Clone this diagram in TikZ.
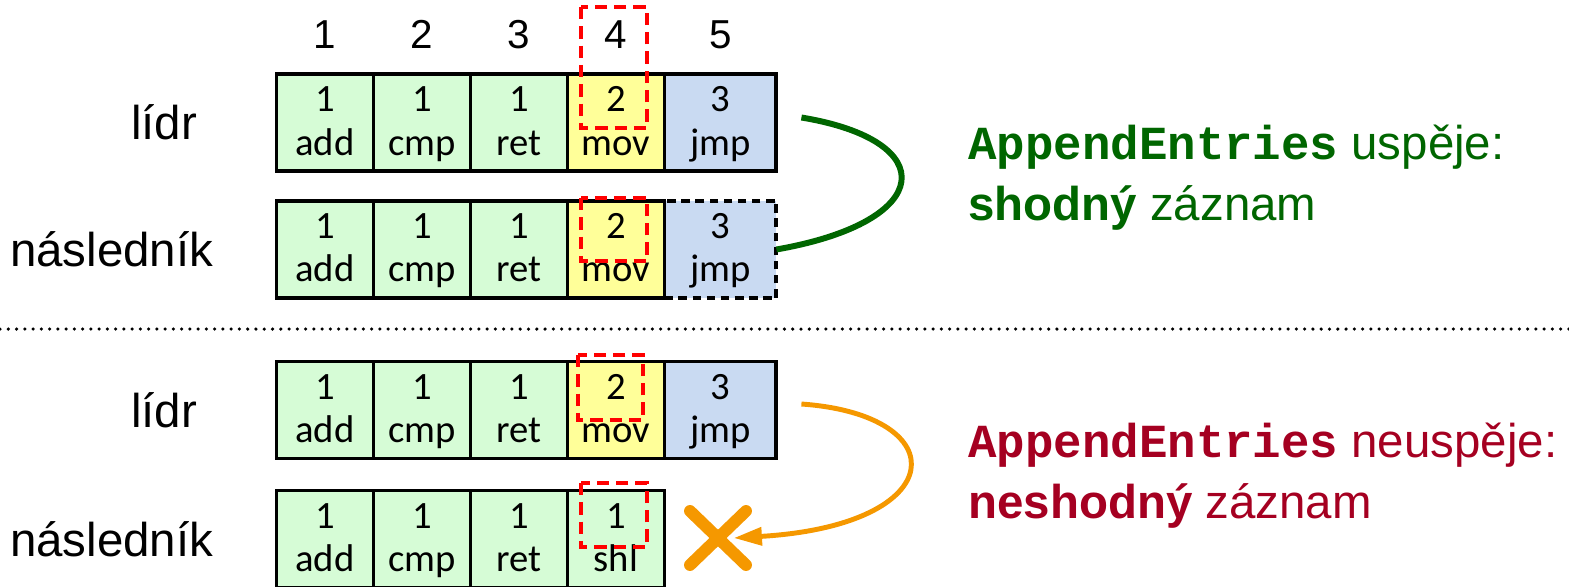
\documentclass[tikz,border=0pt]{standalone}
\usepackage{fontspec}
\setmainfont{Liberation Sans}
\newfontfamily\cellfont{Carlito}
\newfontfamily\codefont{Liberation Mono}
\usetikzlibrary{positioning, arrows.meta}
\definecolor{okfill}{RGB}{214,252,214}
\definecolor{curfill}{RGB}{255,255,153}
\definecolor{newfill}{RGB}{201,218,242}
\definecolor{okgreen}{RGB}{0,102,0}
\definecolor{failred}{RGB}{165,0,33}
\definecolor{failorange}{RGB}{245,152,0}

\begin{document}
\begin{tikzpicture}[x = 0.02cm, y = -0.02cm, node distance = 0pt,
  entry/.style = {rectangle, draw, line width = 2.2pt, minimum width = 1.94cm, minimum height = 1.94cm, inner sep = 0pt, outer sep = 0pt, align = center, font = \cellfont\fontsize{22}{24.5}\selectfont, text height = 37pt, text depth = 0pt},
  wide/.style = {minimum width = 2.24cm},
  idx/.style = {inner sep = 0pt, font = \fontsize{23}{27}\selectfont},
  role/.style = {inner sep = 0pt, font = \fontsize{27}{31}\selectfont},
  note/.style = {inner sep = 0pt, anchor = base west, font = \fontsize{27}{35}\selectfont},
  probe/.style = {draw = red, line width = 2pt, dash pattern = on 7pt off 4pt}]
  \useasboundingbox (0,0) rectangle (1569,586);

  % leader log (top)
  \node [entry, fill = okfill] (l1) at (325,122.5) {1\\add};
  \node [entry, fill = okfill][right = of l1] (l2) {1\\cmp};
  \node [entry, fill = okfill][right = of l2] (l3) {1\\ret};
  \node [entry, fill = curfill][right = of l3] (l4) {2\\mov};
  \node [entry, wide, fill = newfill][right = of l4] (l5) {3\\jmp};

  % indexes
  \node [idx][above = 0.5cm of l1] (h1) {1};
  \node [idx][above = 0.5cm of l2] (h2) {2};
  \node [idx][above = 0.5cm of l3] (h3) {3};
  \node [idx][above = 0.5cm of l4] (h4) {4};
  \node [idx][above = 0.5cm of l5] (h5) {5};

  % follower log (top)
  \node [entry, fill = okfill][below = 0.6cm of l1] (f1) {1\\add};
  \node [entry, fill = okfill][right = of f1] (f2) {1\\cmp};
  \node [entry, fill = okfill][right = of f2] (f3) {1\\ret};
  \node [entry, fill = curfill][right = of f3] (f4) {2\\mov};
  \node [entry, wide, fill = newfill, dash pattern = on 5pt off 3pt][right = of f4] (f5) {3\\jmp};
  \draw [line width = 2.2pt] (f4.north east) -- (f4.south east);

  % leader log (bottom)
  \node [entry, fill = okfill] (m1) at (325,410) {1\\add};
  \node [entry, fill = okfill][right = of m1] (m2) {1\\cmp};
  \node [entry, fill = okfill][right = of m2] (m3) {1\\ret};
  \node [entry, fill = curfill][right = of m3] (m4) {2\\mov};
  \node [entry, wide, fill = newfill][right = of m4] (m5) {3\\jmp};

  % follower log (bottom)
  \node [entry, fill = okfill][below = 0.64cm of m1] (n1) {1\\add};
  \node [entry, fill = okfill][right = of n1] (n2) {1\\cmp};
  \node [entry, fill = okfill][right = of n2] (n3) {1\\ret};
  \node [entry, fill = okfill][right = of n3] (n4) {1\\shl};

  % roles
  \node [role][left = 1.58cm of l1] (leadA) {lídr};
  \node [role][left = 1.26cm of f1] (follA) {následník};
  \node [role][left = 1.58cm of m1] (leadB) {lídr};
  \node [role][left = 1.26cm of n1] (follB) {následník};

  % compared entries
  \draw [probe] (581,7) rectangle (647,128);
  \draw [probe] (581,198) rectangle (647,261);
  \draw [probe] (578,355) rectangle (643,420);
  \draw [probe] (581,483) rectangle (647,547);

  % separator
  \draw [line width = 2pt, dash pattern = on 0pt off 4.7pt, line cap = round] (0,329) -- (1569,329);

  % results
  \node [note, text = okgreen] (okhead) at (968,159) {{\codefont\bfseries AppendEntries} uspěje:};
  \node [note, text = okgreen] (oktail) at (968,220) {\textbf{shodný} záznam};
  \node [note, text = failred] (failhead) at (968,457) {{\codefont\bfseries AppendEntries} neuspěje:};
  \node [note, text = failred] (failtail) at (968,518) {\textbf{neshodný} záznam};

  % edges
  \draw [okgreen, line width = 3.4pt] (l5.east) ++(25,-5) .. controls +(140,23) and +(160,-28) .. (f5.east);

  \coordinate (cross) at (718,538);
  \draw [failorange, line width = 6.8pt, line cap = round] ([shift = {(-28,-27)}]cross) -- ([shift = {(28,27)}]cross);
  \draw [failorange, line width = 6.8pt, line cap = round] ([shift = {(28,-27)}]cross) -- ([shift = {(-28,27)}]cross);
  \draw [failorange, line width = 2.8pt, -{Triangle[length = 16pt, width = 10pt]}] (m5.east) ++(25,-6) .. controls +(155,11) and +(218,-13) .. ([xshift = 9] cross);
\end{tikzpicture}
\end{document}
